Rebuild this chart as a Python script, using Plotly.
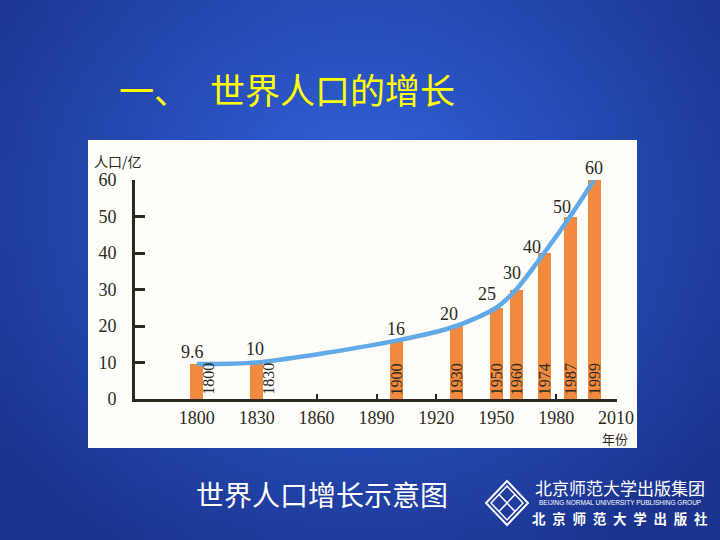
import base64
import struct
import zlib
import plotly.graph_objects as go

# ---------------- data ----------------
years = [1800, 1830, 1900, 1930, 1950, 1960, 1974, 1987, 1999]
population = [9.6, 10, 16, 20, 25, 30, 40, 50, 60]          # 亿
value_labels = ["9.6", "10", "16", "20", "25", "30", "40", "50", "60"]
year_labels = ["1800", "1830", "1900", "1930", "1950", "1960", "1974", "1987", "1999"]
x_ticks = [1800, 1830, 1860, 1890, 1920, 1950, 1980, 2010]
y_ticks = [0, 10, 20, 30, 40, 50, 60]

# styling offsets (pixels) for the value labels
value_xshift = [-4, -2, 0, -7, -9, -4, -12, -8, 0]
value_yshift = [0, 2, 0, 0, 2, 5, -6, -3, 0]

W, H = 720, 540
def px(x): return x / W
def py(y): return 1 - y / H

INK = "#2a2a1e"
SERIF = "Liberation Serif"
CJK = "Noto Sans CJK SC"


# ---- background: small radial-gradient PNG stretched over the page ----
def gradient_png(w=72, h=54):
    outer = (26, 52, 142)
    inner = (50, 100, 222)
    cxp, cyp = 0.5 * w, 0.38 * h
    rows = []
    for j in range(h):
        row = bytearray()
        for i in range(w):
            dx = (i + 0.5 - cxp) / (0.62 * w)
            dy = (j + 0.5 - cyp) / (0.75 * h)
            t = min(1.0, (dx * dx + dy * dy) ** 0.5)
            for o, n in zip(outer, inner):
                row.append(int(round(n + (o - n) * t)))
        rows.append(b"\x00" + bytes(row))
    raw = b"".join(rows)

    def chunk(tag, data):
        return (struct.pack(">I", len(data)) + tag + data +
                struct.pack(">I", zlib.crc32(tag + data) & 0xFFFFFFFF))
    png = (b"\x89PNG\r\n\x1a\n" +
           chunk(b"IHDR", struct.pack(">IIBBBBB", w, h, 8, 2, 0, 0, 0)) +
           chunk(b"IDAT", zlib.compress(raw, 9)) +
           chunk(b"IEND", b""))
    return "data:image/png;base64," + base64.b64encode(png).decode()


fig = go.Figure()

fig.add_trace(go.Bar(
    x=years, y=population, width=6.5,
    marker=dict(color="#f18a3e", line=dict(width=0)),
    hoverinfo="skip", showlegend=False,
))
fig.add_trace(go.Scatter(
    x=years, y=population, mode="lines",
    line=dict(color="#62a9e8", width=4.5, shape="spline", smoothing=0.8),
    cliponaxis=False, hoverinfo="skip", showlegend=False,
))

shapes = []
# white chart panel
shapes.append(dict(type="rect", xref="paper", yref="paper",
                   x0=px(88), x1=px(637), y0=py(448), y1=py(140),
                   fillcolor="#fffdf9", line=dict(width=0), layer="below"))

# publisher logo diamond
lx, ly, hw, hh = 507, 503, 21, 22
def diamond(cxp, cyp, a, b):
    pts = [(cxp, cyp - b), (cxp + a, cyp), (cxp, cyp + b), (cxp - a, cyp)]
    return "M " + " L ".join("%f,%f" % (px(x), py(y)) for x, y in pts) + " Z"
shapes.append(dict(type="path", xref="paper", yref="paper", path=diamond(lx, ly, hw, hh),
                   line=dict(color="white", width=2), layer="above"))
shapes.append(dict(type="path", xref="paper", yref="paper", path=diamond(lx, ly, hw - 5, hh - 5),
                   line=dict(color="white", width=1.5), layer="above"))
a, b = (hw - 5) / 2, (hh - 5) / 2
shapes.append(dict(type="line", xref="paper", yref="paper",
                   x0=px(lx - a), y0=py(ly - b), x1=px(lx + a), y1=py(ly + b),
                   line=dict(color="white", width=1.5), layer="above"))
shapes.append(dict(type="line", xref="paper", yref="paper",
                   x0=px(lx + a), y0=py(ly - b), x1=px(lx - a), y1=py(ly + b),
                   line=dict(color="white", width=1.5), layer="above"))

ann = []
# value labels
for yr, v, lab, dx, dy in zip(years, population, value_labels, value_xshift, value_yshift):
    ann.append(dict(x=yr, y=v, xref="x", yref="y", text=lab, showarrow=False,
                    xanchor="center", yanchor="bottom", xshift=dx, yshift=dy,
                    font=dict(family=SERIF, size=18, color=INK)))
# rotated year labels
for i, (yr, lab) in enumerate(zip(years, year_labels)):
    ann.append(dict(x=yr, y=0, xref="x", yref="y", text=lab, showarrow=False,
                    textangle=-90, xanchor="center", yanchor="bottom",
                    xshift=11 if i < 2 else 0, yshift=2,
                    font=dict(family=SERIF, size=16, color=INK)))
# axis titles
ann.append(dict(x=px(92), y=py(161), xref="paper", yref="paper", text="人口/亿",
                showarrow=False, xanchor="left", yanchor="middle",
                font=dict(family=CJK, size=14, color=INK)))
ann.append(dict(x=px(615), y=py(438), xref="paper", yref="paper", text="年份",
                showarrow=False, xanchor="center", yanchor="middle",
                font=dict(family=CJK, size=13, color=INK)))
# title
ann.append(dict(x=px(117), y=py(88), xref="paper", yref="paper", text="一、",
                showarrow=False, xanchor="left", yanchor="middle",
                font=dict(family=CJK, size=35, color="#ffff00")))
ann.append(dict(x=px(208), y=py(88), xref="paper", yref="paper", text="世界人口的增长",
                showarrow=False, xanchor="left", yanchor="middle",
                font=dict(family=CJK, size=35, color="#ffff00")))
# caption
ann.append(dict(x=px(322), y=py(494), xref="paper", yref="paper", text="世界人口增长示意图",
                showarrow=False, xanchor="center", yanchor="middle",
                font=dict(family=CJK, size=28, color="white")))
# publisher
ann.append(dict(x=px(620), y=py(487), xref="paper", yref="paper", text="北京师范大学出版集团",
                showarrow=False, xanchor="center", yanchor="middle",
                font=dict(family=CJK, size=17, color="white")))
ann.append(dict(x=px(620), y=py(502), xref="paper", yref="paper",
                text="BEIJING NORMAL UNIVERSITY PUBLISHING GROUP",
                showarrow=False, xanchor="center", yanchor="middle",
                font=dict(family="Liberation Sans", size=6.5, color="white")))
ann.append(dict(x=px(620), y=py(518), xref="paper", yref="paper",
                text="\u2002".join("北京师范大学出版社"),
                showarrow=False, xanchor="center", yanchor="middle",
                font=dict(family=CJK, size=13.5, color="white", weight="bold")))

fig.update_layout(
    width=W, height=H, autosize=False,
    margin=dict(l=0, r=0, t=0, b=0, pad=0, autoexpand=False),
    paper_bgcolor="#1a348e", plot_bgcolor="rgba(0,0,0,0)",
    shapes=shapes, annotations=ann, bargap=0,
    images=[dict(source=gradient_png(), xref="paper", yref="paper", x=0, y=1,
                 sizex=1, sizey=1, xanchor="left", yanchor="top",
                 sizing="stretch", layer="below")],
    xaxis=dict(range=[1769, 2010.5], domain=[px(135), px(617)], automargin=False,
               tickvals=x_ticks, ticks="inside", ticklen=5, tickwidth=2, tickcolor=INK,
               showline=True, linecolor=INK, linewidth=3, showgrid=False, zeroline=False,
               tickfont=dict(family=SERIF, size=18, color=INK), layer="below traces",
               ticklabelstandoff=0, fixedrange=True),
    yaxis=dict(range=[0, 60], domain=[1 - 399 / H, 1 - 180 / H], automargin=False,
               tickvals=y_ticks, ticks="inside", ticklen=10, tickwidth=3, tickcolor=INK,
               showline=True, linecolor=INK, linewidth=3, showgrid=False, zeroline=False,
               tickfont=dict(family=SERIF, size=18, color=INK), layer="below traces",
               ticklabelstandoff=12, fixedrange=True),
)

post = ("document.documentElement.style.margin='0';document.body.style.margin='0';"
        "document.body.style.padding='0';document.body.style.overflow='hidden';")

fig.write_html("out.html", config={"responsive": False, "displayModeBar": False},
               default_width="720px", default_height="540px", post_script=post)
